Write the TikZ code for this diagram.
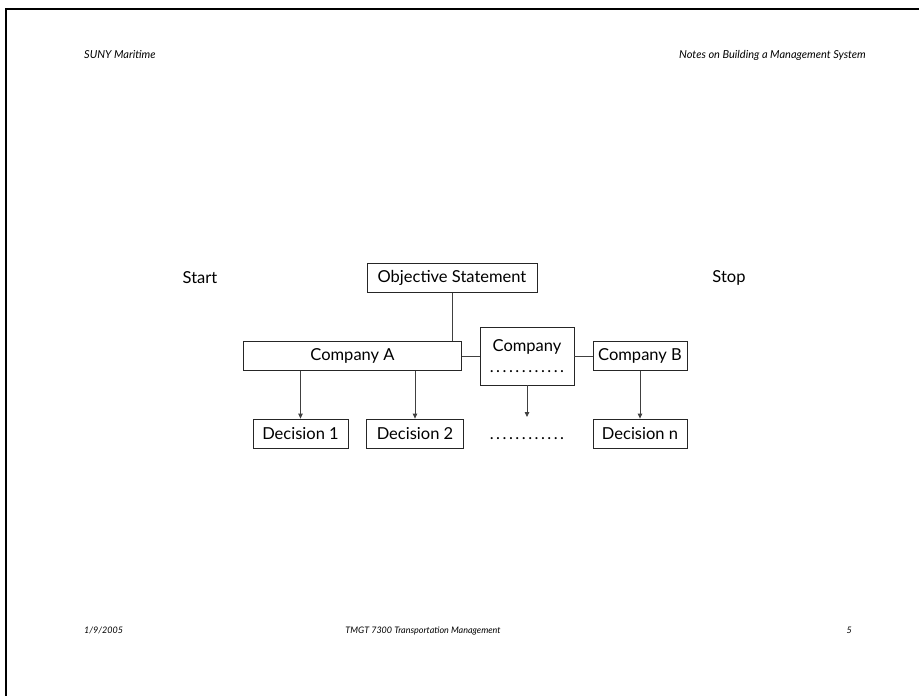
\documentclass[tikz,border=0pt]{standalone}
\usepackage{fontspec}
\setmainfont{Lato}
\newfontfamily\pagefont{Lato}
\usetikzlibrary{arrows.meta}
% a row of evenly spaced dots
\newcommand{\dotrow}{\foreach \k in {1,...,12}{\makebox[6.4pt]{.}}}
\begin{document}
\begin{tikzpicture}[x=1pt,y=-1pt,
  box/.style={draw=black!85, line width=0.8pt, fill=white, inner sep=0pt,
              minimum height=29pt, font=\fontsize{16.5}{18}\selectfont},
  plain/.style={inner sep=0pt, font=\fontsize{16.5}{18}\selectfont},
  headtext/.style={inner sep=0pt, font=\pagefont\itshape\fontsize{11}{12}\selectfont},
  foottext/.style={inner sep=0pt, font=\pagefont\itshape\fontsize{9}{10}\selectfont},
  link/.style={draw=black!75, line width=0.8pt},
  arrowlink/.style={link, -{Triangle[length=5pt,width=4.5pt]}}
]
\useasboundingbox[fill=white] (0,0) rectangle (919,696);

% page frame (top and left edges)
\draw[line width=2.5pt, line cap=rect] (919,9) -- (6,9) -- (6,696);

% running header and footer
\node[headtext, anchor=base west] (hdl) at (84,58) {SUNY Maritime};
\node[headtext, anchor=base east] (hdr) at (866,58) {Notes on Building a Management System};
\node[foottext, anchor=base west] (ftl) at (84,633) {1/9/2005};
\node[foottext, anchor=base] (ftc) at (423,633) {TMGT 7300 Transportation Management};
\node[foottext, anchor=base east] (ftr) at (852,633) {5};

% labels at the ends
\node[plain] (start) at (200,278) {Start};
\node[plain] (stop) at (729,278) {Stop};

% boxes
\node[box, minimum width=170pt] (obj) at (452,278) {Objective Statement};
\node[box, minimum width=218.5pt, minimum height=28.5pt] (coA) at (352.5,356) {Company A};
\node[box, minimum width=94pt, minimum height=58pt, align=center] (coX) at (527,356)
  {Company\\[3pt]\dotrow};
\node[box, minimum width=94pt] (coB) at (640,356) {Company B};

\node[box, minimum width=95pt] (d1) at (300.5,433.5) {Decision 1};
\node[box, minimum width=96.5pt] (d2) at (415,433.5) {Decision 2};
\node[plain, anchor=base] (dots) at (527,439) {\dotrow};
\node[box, minimum width=94pt] (dn) at (640,433.5) {Decision n};
\coordinate (xend) at (527,417);

% connectors
\draw[link] (obj.south) -- (obj.south |- coA.north);
\draw[link] (coA.east) -- (coX.west);
\draw[link] (coX.east) -- (coB.west);
\draw[arrowlink] (coA.south -| d1.north) -- (d1.north);
\draw[arrowlink] (coA.south -| d2.north) -- (d2.north);
\draw[arrowlink] (coX.south) -- (xend);
\draw[arrowlink] (coB.south) -- (dn.north);
\end{tikzpicture}
\end{document}
